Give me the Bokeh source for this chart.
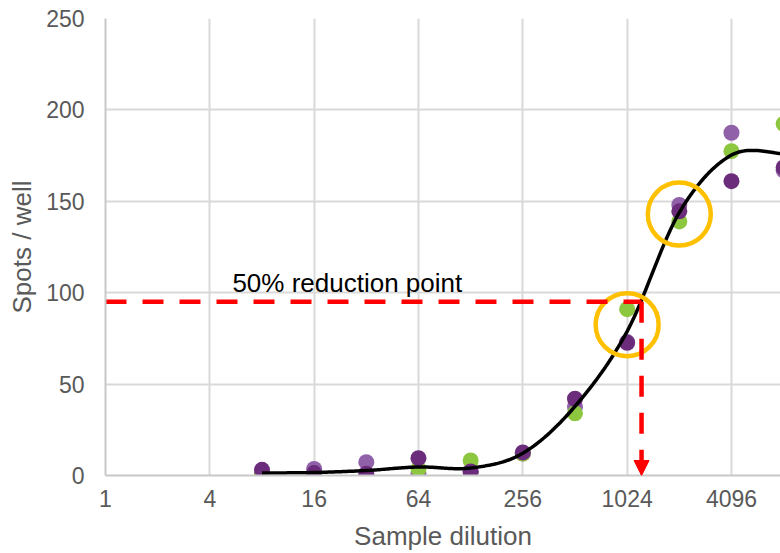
import numpy as np
from bokeh.plotting import figure
from bokeh.models import Range1d, FixedTicker, CustomJSTickFormatter, Arrow, NormalHead
from bokeh.core.properties import value
from bokeh.embed import file_html
from bokeh.resources import INLINE

# ---- data ----
dilutions = [8, 16, 32, 64, 128, 256, 512, 1024, 2048, 4096, 8192]
series_light = [1.0, 3.6, 7.3, 0.9, 2.0, 12.0, 37.5, 73.0, 148.0, 187.5, 167.0]
series_green = [0.0, 0.0, 0.0, 3.6, 8.2, 12.0, 34.0, 91.0, 139.0, 177.4, 192.4]
series_dark = [3.1, 1.3, 0.9, 9.5, 2.2, 12.6, 42.0, 72.6, 144.5, 161.0, 168.5]

x_ticks = [1, 4, 16, 64, 256, 1024, 4096]
y_ticks = [0, 50, 100, 150, 200, 250]

reduction_y = 95          # 50% reduction level
reduction_x = 1240        # dilution at 50% reduction
highlight_x = [1024, 2048]
highlight_y = [82.5, 143.0]
label_text = "50% reduction point"

LIGHT = "#9061A8"
DARK = "#6B2D7B"
GREEN = "#8DC63F"
FONT = "Liberation Sans"
GREY = "#595959"

# ---- smoothed mean curve (Excel-like Bezier / Catmull-Rom) ----
means = (np.array(series_light) + np.array(series_green) + np.array(series_dark)) / 3.0
lx = np.log2(dilutions)
P = np.column_stack([lx, means])
Pext = np.vstack([P[0], P, P[-1]])
cx, cy = [], []
for i in range(len(P) - 1):
    p0, p1, p2, p3 = Pext[i], Pext[i + 1], Pext[i + 2], Pext[i + 3]
    c1 = p1 + (p2 - p0) / 6.0
    c2 = p2 - (p3 - p1) / 6.0
    t = np.linspace(0, 1, 30)[:, None]
    b = ((1 - t) ** 3) * p1 + 3 * ((1 - t) ** 2) * t * c1 + 3 * (1 - t) * t ** 2 * c2 + t ** 3 * p2
    cx.extend(list(2 ** b[:, 0]))
    cy.extend(list(b[:, 1]))

p = figure(width=780, height=553, x_axis_type="log",
           x_range=Range1d(1, 2 ** 12.94), y_range=Range1d(0, 250),
           output_backend="svg", toolbar_location=None,
           min_border_left=105, min_border_right=0, min_border_top=18, min_border_bottom=78)
p.outline_line_color = None
p.background_fill_color = "white"

# axes
p.xaxis.ticker = FixedTicker(ticks=x_ticks)
p.xaxis.formatter = CustomJSTickFormatter(code="return String(Math.round(tick));")
p.yaxis.ticker = FixedTicker(ticks=y_ticks)
for ax in (p.xaxis[0], p.yaxis[0]):
    ax.major_tick_line_color = None
    ax.minor_tick_line_color = None
    ax.major_tick_out = 0
    ax.major_tick_in = 0
    ax.axis_line_color = "#C8C8C8"
    ax.axis_line_width = 2
    ax.major_label_text_font = FONT
    ax.major_label_text_font_size = "23px"
    ax.major_label_text_color = GREY
    ax.axis_label_text_font = FONT
    ax.axis_label_text_font_size = "26px"
    ax.axis_label_text_font_style = "normal"
    ax.axis_label_text_color = GREY
p.xaxis.axis_label = "Sample dilution"
p.yaxis.axis_label = "Spots / well"
p.xaxis.major_label_standoff = 14
p.xaxis.axis_label_standoff = 11
p.yaxis.major_label_standoff = 21
p.yaxis.axis_label_standoff = 6

p.xgrid.ticker = FixedTicker(ticks=x_ticks)
p.ygrid.ticker = FixedTicker(ticks=y_ticks)
for g in (p.xgrid[0], p.ygrid[0]):
    g.grid_line_color = "#D9D9D9"
    g.grid_line_width = 2

# points
p.scatter(dilutions, series_light, size=16, color=LIGHT, line_color=None)
p.scatter(dilutions, series_green, size=16, color=GREEN, line_color=None)
p.scatter(dilutions, series_dark, size=16, color=DARK, line_color=None)

# smoothed curve
p.line(cx, cy, line_color="black", line_width=3.5)

# highlight circles
p.scatter(highlight_x, highlight_y, size=63, fill_color=None, line_color="#FFC000", line_width=4.5)

# 50% reduction lines
p.line([1, reduction_x], [reduction_y, reduction_y], line_color="#FF0000", line_width=4.5,
       line_dash="21 16")
p.add_layout(Arrow(x_start=reduction_x, y_start=reduction_y, x_end=reduction_x, y_end=0,
                   line_color="#FF0000", line_width=4.5, line_dash="21 16",
                   end=NormalHead(size=15, fill_color="#FF0000", line_color="#FF0000", line_width=1)))

p.text(x=[5.4], y=[105.5], text=[label_text], text_font=value(FONT), text_font_size="26px",
       text_color="black", text_baseline="middle", text_align="left")

open("out.html", "w").write(file_html(p, INLINE))
